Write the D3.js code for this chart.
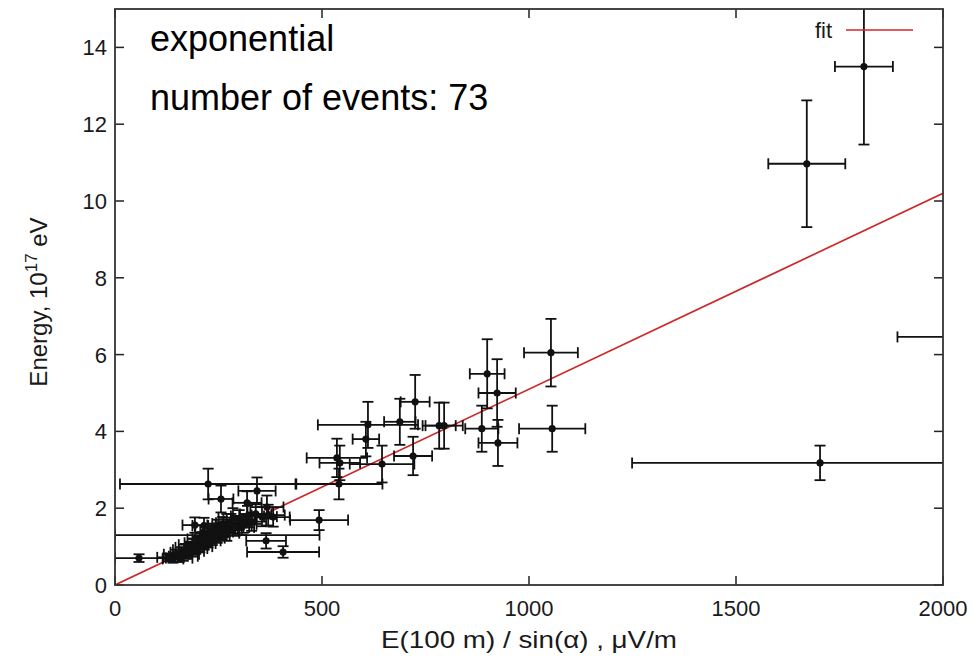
<!DOCTYPE html>
<html>
<head>
<meta charset="utf-8">
<script src="https://cdn.jsdelivr.net/npm/d3@7"></script>
<style>
  body { margin: 0; background: #fff; }
  text { font-family: "Liberation Sans", Arial, sans-serif; }
</style>
</head>
<body>
<svg id="js-svg" width="974" height="665"></svg>
<script>
// data: [x, y, xerr, yerr]
const events = [
  [1809, 13.5, 70, 2.03],
  [1671, 10.97, 93, 1.65],
  [1703, 3.18, 454, 0.45],
  [2150, 6.46, 260, 0.8],
  [1053, 6.05, 65, 0.88],
  [1056, 4.07, 80, 0.6],
  [899, 5.5, 42, 0.9],
  [923, 5.0, 45, 0.88],
  [886, 4.07, 40, 0.6],
  [925, 3.7, 47, 0.6],
  [725, 4.77, 35, 0.7],
  [688, 4.25, 38, 0.6],
  [783, 4.15, 40, 0.6],
  [795, 4.15, 45, 0.6],
  [720, 3.36, 46, 0.5],
  [645, 3.15, 78, 0.48],
  [611, 4.17, 121, 0.6],
  [606, 3.8, 32, 0.45],
  [536, 3.31, 73, 0.5],
  [543, 3.18, 49, 0.45],
  [541, 2.63, 105, 0.4],
  [225, 2.63, 213, 0.4],
  [493, 1.69, 70, 0.26],
  [365, 1.15, 48, 0.2],
  [406, 0.86, 87, 0.15],
  [247, 1.3, 247, 0.2],
  [58, 0.7, 58, 0.1],
  [343, 2.45, 45, 0.35],
  [367, 2.03, 40, 0.3],
  [382, 1.77, 40, 0.25],
  [256, 2.24, 30, 0.35],
  [319, 2.14, 35, 0.3],
  [193, 1.56, 30, 0.2],
  [285, 1.75, 35, 0.25],
  [270, 1.6, 35, 0.25],
  [306, 1.5, 30, 0.2],
  [215, 1.55, 28, 0.2]
];
const cluster = [
  [130, 0.72], [140, 0.68], [148, 0.8], [155, 0.7], [160, 0.85], [165, 0.75],
  [170, 0.92], [175, 0.8], [180, 0.98], [185, 0.88], [190, 1.05], [195, 0.95],
  [200, 1.1], [205, 1.0], [210, 1.2], [215, 1.08], [220, 1.25], [225, 1.15],
  [230, 1.35], [235, 1.22], [240, 1.4], [245, 1.3], [250, 1.48], [255, 1.38],
  [260, 1.55], [265, 1.45], [270, 1.35], [280, 1.62], [290, 1.5], [300, 1.7],
  [310, 1.58], [320, 1.8], [330, 1.65], [340, 1.85], [355, 1.78], [370, 1.82]
];
const clusterXErr = [28, 25, 30, 32, 26, 35, 30, 28, 34, 30, 36, 28, 32, 30, 35, 28, 33, 30,
  36, 30, 34, 32, 38, 30, 35, 32, 30, 36, 34, 38, 32, 40, 35, 38, 36, 40];
const clusterYErr = [0.1, 0.1, 0.12, 0.1, 0.13, 0.12, 0.15, 0.12, 0.15, 0.14, 0.16, 0.14,
  0.17, 0.15, 0.18, 0.16, 0.18, 0.17, 0.2, 0.18, 0.2, 0.19, 0.22, 0.2, 0.22, 0.2, 0.2,
  0.23, 0.22, 0.25, 0.22, 0.26, 0.24, 0.26, 0.25, 0.27];
const fitLine = [[0, 0], [2000, 10.2]];
const xTicks = [0, 500, 1000, 1500, 2000];
const yTicks = [0, 2, 4, 6, 8, 10, 12, 14];

const allPoints = events.concat(cluster.map((d, i) => [d[0], d[1], clusterXErr[i], clusterYErr[i]]));

const plotLeft = 115, plotRight = 943, plotTop = 9, plotBottom = 585;
const x = d3.scaleLinear().domain([0, 2000]).range([plotLeft, plotRight]);
const y = d3.scaleLinear().domain([0, 15]).range([plotBottom, plotTop]);

const svg = d3.select("#js-svg");

svg.append("defs").append("clipPath").attr("id", "plot-clip")
  .append("rect")
  .attr("x", plotLeft).attr("y", plotTop)
  .attr("width", plotRight - plotLeft).attr("height", plotBottom - plotTop);

// ticks, gnuplot style: pointing inward on all four sides
const tickLen = 9;
const axes = svg.append("g").attr("stroke", "#222").attr("stroke-width", 1.5);
xTicks.forEach((t) => {
  axes.append("line").attr("x1", x(t)).attr("x2", x(t)).attr("y1", plotBottom).attr("y2", plotBottom - tickLen);
  axes.append("line").attr("x1", x(t)).attr("x2", x(t)).attr("y1", plotTop).attr("y2", plotTop + tickLen);
});
yTicks.forEach((t) => {
  axes.append("line").attr("x1", plotLeft).attr("x2", plotLeft + tickLen).attr("y1", y(t)).attr("y2", y(t));
  axes.append("line").attr("x1", plotRight).attr("x2", plotRight - tickLen).attr("y1", y(t)).attr("y2", y(t));
});

svg.append("g").selectAll("text").data(xTicks).join("text")
  .attr("x", (d) => x(d)).attr("y", plotBottom + 31)
  .attr("text-anchor", "middle")
  .attr("font-size", 22).attr("fill", "#1a1a1a")
  .text((d) => d);

svg.append("g").selectAll("text").data(yTicks).join("text")
  .attr("x", plotLeft - 8).attr("y", (d) => y(d) + 8)
  .attr("text-anchor", "end")
  .attr("font-size", 22).attr("fill", "#1a1a1a")
  .text((d) => d);

// fit line
const plot = svg.append("g").attr("clip-path", "url(#plot-clip)");
plot.append("path")
  .attr("d", d3.line().x((d) => x(d[0])).y((d) => y(d[1]))(fitLine))
  .attr("stroke", "#cc2a2a").attr("stroke-width", 1.7).attr("fill", "none");

// error bars
const cap = 5.5;
const bars = plot.append("g").attr("stroke", "#111").attr("stroke-width", 1.8);
allPoints.forEach(([vx, vy, ex, ey]) => {
  const cx = x(vx), cy = y(vy);
  const x0 = x(vx - ex), x1 = x(vx + ex), y0 = y(vy - ey), y1 = y(vy + ey);
  bars.append("line").attr("x1", x0).attr("x2", x1).attr("y1", cy).attr("y2", cy);
  bars.append("line").attr("x1", x0).attr("x2", x0).attr("y1", cy - cap).attr("y2", cy + cap);
  bars.append("line").attr("x1", x1).attr("x2", x1).attr("y1", cy - cap).attr("y2", cy + cap);
  bars.append("line").attr("x1", cx).attr("x2", cx).attr("y1", y0).attr("y2", y1);
  bars.append("line").attr("x1", cx - cap).attr("x2", cx + cap).attr("y1", y0).attr("y2", y0);
  bars.append("line").attr("x1", cx - cap).attr("x2", cx + cap).attr("y1", y1).attr("y2", y1);
});
plot.append("g").selectAll("circle").data(allPoints).join("circle")
  .attr("cx", (d) => x(d[0])).attr("cy", (d) => y(d[1]))
  .attr("r", 3.6).attr("fill", "#111");

// frame
svg.append("rect")
  .attr("x", plotLeft).attr("y", plotTop)
  .attr("width", plotRight - plotLeft).attr("height", plotBottom - plotTop)
  .attr("fill", "none").attr("stroke", "#333").attr("stroke-width", 1.8);

// legend
svg.append("text").attr("x", 832).attr("y", 38)
  .attr("text-anchor", "end").attr("font-size", 22).attr("fill", "#1a1a1a").text("fit");
svg.append("line").attr("x1", 846).attr("x2", 913).attr("y1", 30).attr("y2", 30)
  .attr("stroke", "#cc2a2a").attr("stroke-width", 1.7);

// annotations
svg.append("text").attr("x", 150).attr("y", 51).attr("font-size", 36).attr("fill", "#000").text("exponential");
svg.append("text").attr("x", 150).attr("y", 110).attr("font-size", 36).attr("fill", "#000").text("number of events: 73");

// axis titles
svg.append("text").attr("x", (plotLeft + plotRight) / 2).attr("y", 648)
  .attr("text-anchor", "middle").attr("font-size", 24).attr("fill", "#1a1a1a")
  .attr("textLength", 296).attr("lengthAdjust", "spacingAndGlyphs")
  .text("E(100 m) / sin(\u03b1) , \u03bcV/m");

const yTitle = svg.append("text")
  .attr("transform", "translate(47, 302) rotate(-90)")
  .attr("text-anchor", "middle").attr("font-size", 24).attr("fill", "#1a1a1a");
yTitle.append("tspan").text("Energy, 10");
yTitle.append("tspan").attr("dy", -10).attr("font-size", 17).text("17");
yTitle.append("tspan").attr("dy", 10).text(" eV");
</script>
</body>
</html>
